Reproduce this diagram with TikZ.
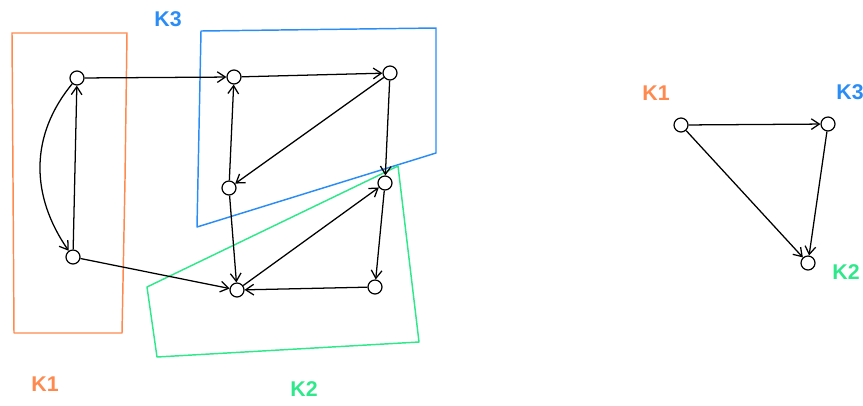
\documentclass[tikz,border=0pt]{standalone}
\usepackage{fontspec}
\setmainfont{Liberation Sans}
\usetikzlibrary{arrows.meta}
\definecolor{kOrange}{HTML}{FF8A50}
\definecolor{kBlue}{HTML}{2A8CF5}
\definecolor{kGreen}{HTML}{30E88C}

\begin{document}
\begin{tikzpicture}[x=0.75pt, y=-0.75pt,
  vert/.style={circle, draw, line width=0.9pt, minimum size=10.5pt,
               inner sep=0pt, fill=white},
  edge/.style={-{Straight Barb[length=6pt,width=8pt]}, line width=0.95pt},
  clus/.style={line width=1.1pt, line join=round},
  lab/.style={font=\bfseries\fontsize{16}{18}\selectfont}]
  \useasboundingbox (0,0) rectangle (863,405);

  % clusters
  \draw[clus, kOrange] (12,33) -- (127,33) -- (125,180) -- (122,333)
    -- (14,333) -- (13,180) -- cycle;
  \draw[clus, kBlue] (201,31) -- (436,28) -- (436,153) -- (197,227) -- cycle;
  \draw[clus, kGreen] (147,287) -- (398,166) -- (419,342) -- (157,357) -- cycle;

  % left graph
  \node[vert] (a) at (77,78)  {};
  \node[vert] (b) at (73,257) {};
  \node[vert] (c) at (234,77) {};
  \node[vert] (d) at (390,73) {};
  \node[vert] (e) at (229,188) {};
  \node[vert] (f) at (385,183) {};
  \node[vert] (g) at (237,290) {};
  \node[vert] (h) at (375,287) {};

  \draw[edge] (a) -- (c);
  \draw[edge] (b) -- (a);
  \draw[edge] (a) .. controls (30,135) and (30,195) .. (b);
  \draw[edge] (b) -- (g);
  \draw[edge] (c) -- (d);
  \draw[edge] (e) -- (c);
  \draw[edge] (d) -- (e);
  \draw[edge] (d) -- (f);
  \draw[edge] (e) -- (g);
  \draw[edge] (g) -- (f);
  \draw[edge] (f) -- (h);
  \draw[edge] (h) -- (g);

  \node[lab, text=kBlue]   (k3lab) at (168,19)  {K3};
  \node[lab, text=kOrange] (k1lab) at (45,384)  {K1};
  \node[lab, text=kGreen]  (k2lab) at (304,389) {K2};

  % condensed graph
  \node[vert] (K1) at (681,125) {};
  \node[vert] (K3) at (828,124) {};
  \node[vert] (K2) at (808,263) {};
  \draw[edge] (K1) -- (K3);
  \draw[edge] (K1) -- (K2);
  \draw[edge] (K3) -- (K2);

  \node[lab, text=kOrange] (K1lab) at (656,93)  {K1};
  \node[lab, text=kBlue]   (K3lab) at (850,92)  {K3};
  \node[lab, text=kGreen]  (K2lab) at (846,272) {K2};
\end{tikzpicture}
\end{document}
